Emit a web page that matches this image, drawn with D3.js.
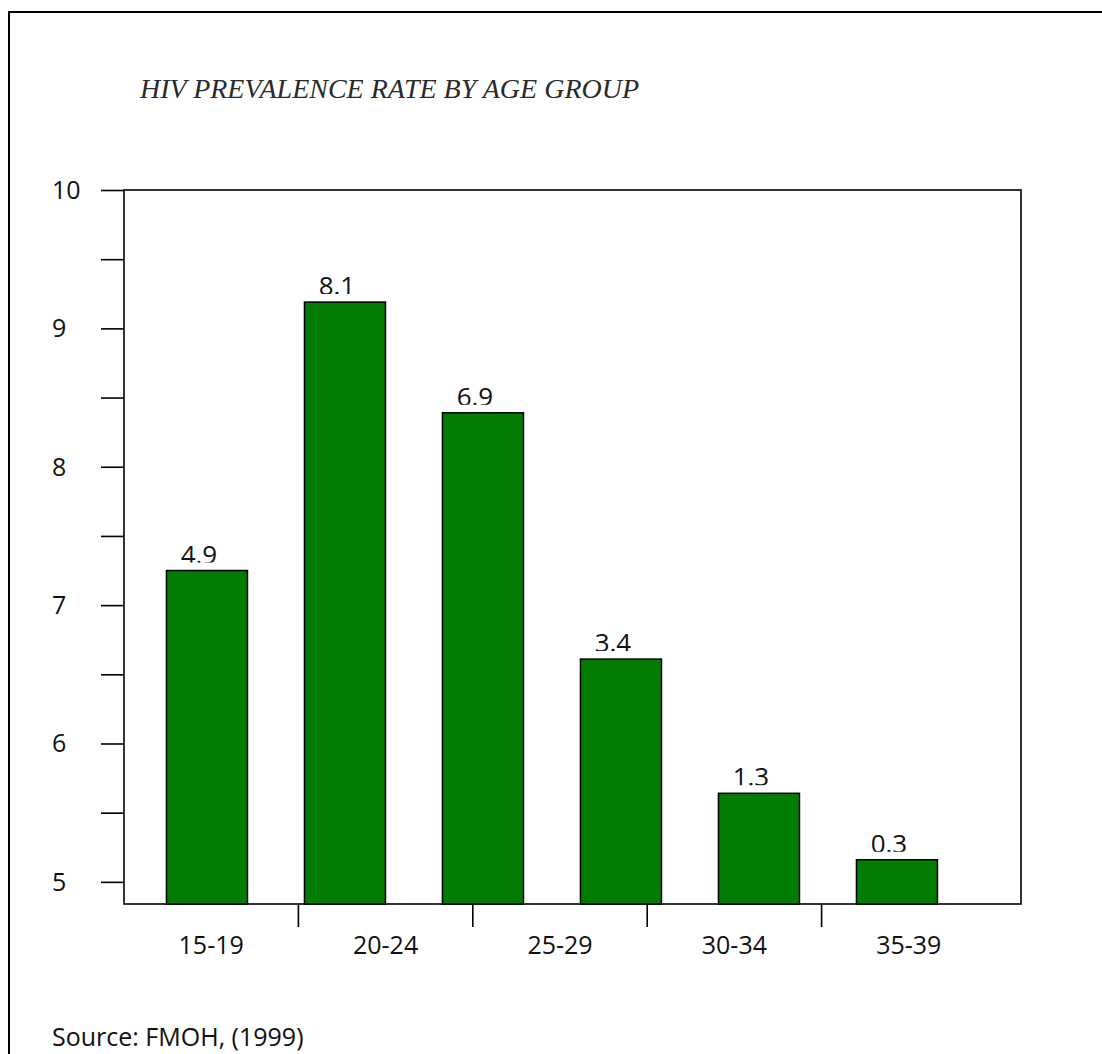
<!DOCTYPE html>
<html>
<head>
<meta charset="utf-8">
<script src="https://cdn.jsdelivr.net/npm/d3@7"></script>
<style>
  body { margin: 0; background: #fff; }
  text { font-family: "Open Sans", "Noto Sans", sans-serif; fill: #111; }
</style>
</head>
<body>
<div id="chart"></div>
<script>
// data
const ageGroups = ["15-19", "20-24", "25-29", "30-34", "35-39"]
const barLabels = ["4.9", "8.1", "6.9", "3.4", "1.3", "0.3"]
// bar tops as they sit against the left axis
const barValues = [7.25, 9.19, 8.39, 6.61, 5.64, 5.16]
const yTickLabels = ["5", "6", "7", "8", "9", "10"]
const yFloor = 4.84

const W = 1102
const H = 1054
const margin = {top: 190, right: 81, bottom: 150, left: 124}
const width = W - margin.left - margin.right
const height = H - margin.top - margin.bottom

const svg = d3.select("#chart")
    .append("svg")
    .attr("width", W)
    .attr("height", H)

// outer frame, only top and left are in view
svg.append("rect")
    .attr("x", 9).attr("y", 12)
    .attr("width", W + 20).attr("height", H + 20)
    .attr("fill", "none")
    .attr("stroke", "#000")
    .attr("stroke-width", 2)

svg.append("text")
    .attr("x", 140)
    .attr("y", 98)
    .style("font-family", "'Liberation Serif', 'Times New Roman', serif")
    .style("font-style", "italic")
    .style("font-size", "28px")
    .style("fill", "#2a2a2a")
    .text("HIV PREVALENCE RATE BY AGE GROUP")

svg.append("text")
    .attr("x", 52)
    .attr("y", 1046)
    .style("font-size", "25px")
    .text("Source: FMOH, (1999)")

const g = svg.append("g")
    .attr("transform", "translate(" + margin.left + "," + margin.top + ")")

const y = d3.scaleLinear()
    .domain([yFloor, 10])
    .range([height, 0])

const x = d3.scaleBand()
    .domain(d3.range(barValues.length))
    .range([0, width])
    .paddingInner(0.413)
    .paddingOuter(0.4565)
    .align(0.337)

const ageX = d3.scaleBand()
    .domain(ageGroups)
    .range([0, 872])

// y axis: ticks every half step, labels on the whole numbers
const yAxis = g.append("g")
    .call(d3.axisLeft(y)
        .tickValues(d3.range(5, 10.01, 0.5))
        .tickSize(23)
        .tickFormat(d => Number.isInteger(d) ? yTickLabels[d - 5] : ""))
yAxis.select(".domain").remove()
yAxis.selectAll(".tick line").attr("stroke", "#000").attr("stroke-width", 1.6)
yAxis.selectAll(".tick text")
    .attr("x", -72)
    .attr("text-anchor", "start")
    .attr("dy", "0.34em")
    .style("font-family", "'Open Sans', sans-serif")
    .style("font-size", "25px")
    .style("fill", "#111")

// plot box
g.append("rect")
    .attr("width", width)
    .attr("height", height)
    .attr("fill", "none")
    .attr("stroke", "#000")
    .attr("stroke-width", 1.6)

// x axis ticks sit between the age groups
g.selectAll(".xtick")
    .data(ageGroups.slice(1))
    .enter()
    .append("line")
    .attr("class", "xtick")
    .attr("x1", d => ageX(d))
    .attr("x2", d => ageX(d))
    .attr("y1", height)
    .attr("y2", height + 23)
    .attr("stroke", "#000")
    .attr("stroke-width", 1.6)

g.selectAll(".xlabel")
    .data(ageGroups)
    .enter()
    .append("text")
    .attr("class", "xlabel")
    .attr("x", d => ageX(d) + ageX.bandwidth() / 2)
    .attr("y", height + 50)
    .attr("text-anchor", "middle")
    .style("font-size", "25px")
    .text(d => d)

g.selectAll(".bar")
    .data(barValues)
    .enter()
    .append("rect")
    .attr("class", "bar")
    .attr("x", (d, i) => x(i))
    .attr("y", d => y(d))
    .attr("width", x.bandwidth())
    .attr("height", d => height - y(d))
    .attr("fill", "#027c02")
    .attr("stroke", "#000")
    .attr("stroke-width", 1.5)

// value labels get their bottoms cut off like in the original
const defs = svg.append("defs")
barValues.forEach((d, i) => {
    defs.append("clipPath")
        .attr("id", "lab" + i)
        .append("rect")
        .attr("x", x(i) - 40)
        .attr("y", 0)
        .attr("width", x.bandwidth() + 80)
        .attr("height", y(d) - 8)
})

g.selectAll(".vlabel")
    .data(barValues)
    .enter()
    .append("text")
    .attr("class", "vlabel")
    .attr("clip-path", (d, i) => "url(#lab" + i + ")")
    .attr("x", (d, i) => x(i) + x.bandwidth() / 2 - 8)
    .attr("y", d => y(d) - 7)
    .attr("text-anchor", "middle")
    .style("font-size", "26px")
    .text((d, i) => barLabels[i])
</script>
</body>
</html>
